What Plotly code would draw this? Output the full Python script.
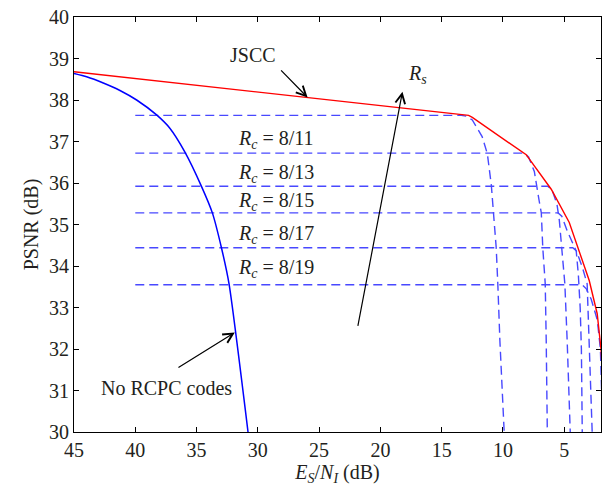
import plotly.graph_objects as go

# ---- data ----
x_ticks = [45, 40, 35, 30, 25, 20, 15, 10, 5]
y_ticks = [30, 31, 32, 33, 34, 35, 36, 37, 38, 39, 40]

jscc_x = [45, 12.8, 12.5, 8.1, 7.9, 6.06, 4.59, 3.78, 2.96, 2.31, 2.0, 1.9]
jscc_y = [38.68, 37.63, 37.58, 36.68, 36.6, 35.85, 35.05, 34.36, 33.65, 32.85, 32.0, 31.5]

norcpc_x = [45, 43.97, 42.61, 41.25, 39.89, 38.26, 37.18, 35.96, 34.6, 33.71, 32.97, 32.35, 30.8]
norcpc_y = [38.64, 38.56, 38.41, 38.23, 38.0, 37.64, 37.32, 36.75, 35.92, 35.28, 34.44, 33.57, 30.0]

rc_labels = ["8/11", "8/13", "8/15", "8/17", "8/19"]

rc1_x = [40, 13.4, 13.0, 12.5, 11.7, 11.27, 10.95, 10.8, 10.55, 10.42, 10.25, 9.9]
rc1_y = [37.63, 37.63, 37.61, 37.52, 37.12, 36.7, 35.95, 35.3, 34.44, 33.57, 32.2, 30.0]

rc2_x = [40, 8.25, 7.9, 7.44, 7.04, 6.87, 6.75, 6.55, 6.47, 6.38]
rc2_y = [36.72, 36.72, 36.62, 36.28, 35.56, 35.28, 34.44, 33.57, 32.2, 30.0]

rc3_x = [40, 6.35, 6.0, 5.6, 5.4, 5.2, 4.95, 4.76, 4.51]
rc3_y = [35.92, 35.92, 35.84, 35.5, 35.1, 34.44, 33.57, 32.2, 30.0]

rc4_x = [40, 5.5, 5.2, 4.75, 4.02, 3.85, 3.7, 3.6, 3.53]
rc4_y = [35.28, 35.28, 35.2, 34.84, 34.36, 33.8, 33.0, 32.0, 30.0]

rc5_x = [40, 4.3, 4.0, 3.5, 3.13, 2.96, 2.72]
rc5_y = [34.44, 34.44, 34.36, 33.95, 33.57, 31.85, 30.0]

rc6_x = [40, 3.55, 3.2, 2.8, 2.3, 2.05, 1.95, 1.9]
rc6_y = [33.55, 33.55, 33.45, 33.2, 32.7, 32.0, 31.0, 30.0]

rc_curves = [(rc1_x, rc1_y), (rc2_x, rc2_y), (rc3_x, rc3_y),
             (rc4_x, rc4_y), (rc5_x, rc5_y), (rc6_x, rc6_y)]
rc_label_y = [37.05, 36.23, 35.56, 34.75, 33.93]
rc_label_x = 31.75

FONT = "Liberation Serif"
TXT = "#231f20"
FS = 20

fig = go.Figure()

for cx, cy in rc_curves:
    fig.add_trace(go.Scatter(x=cx, y=cy, mode="lines",
                             line=dict(color="#4848ff", width=1.4, dash="9px,5px"),
                             hoverinfo="skip", showlegend=False))

fig.add_trace(go.Scatter(x=norcpc_x, y=norcpc_y, mode="lines", line_shape="spline",
                         line=dict(color="#0000ff", width=1.5, smoothing=0.6), showlegend=False))
fig.add_trace(go.Scatter(x=jscc_x, y=jscc_y, mode="lines",
                         line=dict(color="#ff0000", width=1.4), showlegend=False))

ann = []
for lab, ly in zip(rc_labels, rc_label_y):
    ann.append(dict(x=rc_label_x, y=ly, xref="x", yref="y", xanchor="left", yanchor="middle",
                    text="<i>R</i><sub><i>c</i></sub> = " + lab, showarrow=False,
                    font=dict(family=FONT, size=FS, color=TXT)))

# text labels
ann.append(dict(x=30.4, y=39.09, xref="x", yref="y", text="JSCC", showarrow=False,
                font=dict(family=FONT, size=FS, color=TXT)))
ann.append(dict(x=17.0, y=38.62, xref="x", yref="y", text="<i>R</i><sub><i>s</i></sub>",
                showarrow=False, font=dict(family=FONT, size=FS, color=TXT)))
ann.append(dict(x=37.42, y=31.06, xref="x", yref="y", text="No RCPC codes", showarrow=False,
                font=dict(family=FONT, size=FS, color=TXT)))

# arrows
arrows = [((28.22, 38.75), (25.94, 38.06)),
          ((21.86, 32.52), (18.2, 38.2)),
          ((36.6, 31.53), (31.88, 32.4))]
for (tx, ty), (hx, hy) in arrows:
    ann.append(dict(x=hx, y=hy, ax=tx, ay=ty, xref="x", yref="y", axref="x", ayref="y",
                    text="", showarrow=True, arrowhead=5, arrowsize=1.6, arrowwidth=1.2,
                    arrowcolor="#000000", standoff=0, startstandoff=0))

fig.update_layout(
    width=608, height=486,
    margin=dict(l=74, r=6, t=15, b=54),
    paper_bgcolor="white", plot_bgcolor="white",
    annotations=ann,
    showlegend=False,
    font=dict(family=FONT, color=TXT),
)
fig.update_xaxes(range=[45, 2], tickvals=x_ticks, ticktext=[str(v) for v in x_ticks],
                 ticks="inside", ticklen=5, tickcolor="black", mirror="ticks",
                 showline=True, linecolor="black", linewidth=1.2, showgrid=False, zeroline=False,
                 tickfont=dict(family=FONT, size=FS, color=TXT),
                 title=dict(text="<i>E</i><sub><i>S</i></sub>/<i>N</i><sub><i>I</i></sub> (dB)",
                            font=dict(family=FONT, size=FS, color=TXT), standoff=2))
fig.update_yaxes(range=[30, 40], tickvals=y_ticks, ticks="inside", ticklen=5, tickcolor="black",
                 mirror="ticks", showline=True, linecolor="black", linewidth=1.2,
                 showgrid=False, zeroline=False,
                 tickfont=dict(family=FONT, size=FS, color=TXT),
                 title=dict(text="PSNR (dB)", font=dict(family=FONT, size=FS, color=TXT), standoff=4))

fig.write_html("out.html")
